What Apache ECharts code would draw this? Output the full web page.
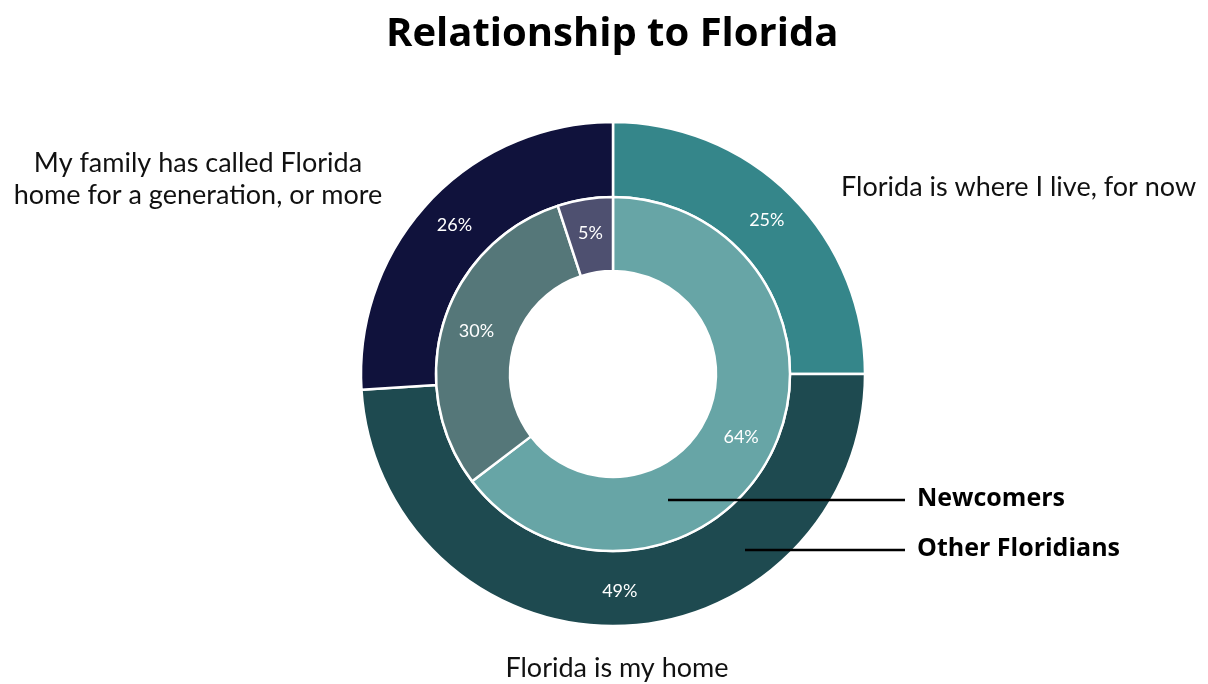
<!DOCTYPE html>
<html>
<head>
<meta charset="utf-8">
<script src="https://cdn.jsdelivr.net/npm/echarts@6/dist/echarts.min.js"></script>
<style>
  html, body { margin: 0; padding: 0; background: #fff; }
  #chart { width: 1208px; height: 684px; }
</style>
</head>
<body>
<div id="chart"></div>
<script>
const categories = [
  'Florida is where I live, for now',
  'Florida is my home',
  'My family has called Florida home for a generation, or more'
]
const newcomers = [64, 30, 5]
const otherFloridians = [25, 49, 26]

const outerColors = ['#35868a', '#1e4a50', '#10123c']
const innerColors = ['#67a5a6', '#557779', '#4e5070']

const font = 'Lato, "Open Sans", sans-serif'
const boldFont = '"Open Sans", Lato, sans-serif'
const chart = echarts.init(document.getElementById('chart'))

const toData = (vals, colors) =>
  vals.map((v, i) => ({ name: categories[i], value: v, itemStyle: { color: colors[i] } }))

const ringLabel = {
  show: true,
  position: 'inside',
  formatter: (p) => p.value + '%',
  color: '#fff',
  fontFamily: font,
  fontSize: 18
}

chart.setOption({
  title: {
    text: 'Relationship to Florida',
    left: 381,
    top: 10,
    textStyle: { fontFamily: boldFont, fontWeight: 'bold', fontSize: 40, color: '#000' }
  },
  series: [
    {
      name: 'Other Floridians',
      type: 'pie',
      center: [613, 374],
      radius: [177, 252],
      startAngle: 90,
      clockwise: true,
      silent: true,
      label: ringLabel,
      labelLine: { show: false },
      itemStyle: { borderColor: '#fff', borderWidth: 2.5 },
      data: toData(otherFloridians, outerColors)
    },
    {
      name: 'Newcomers',
      type: 'pie',
      center: [613, 374],
      radius: [103, 177],
      startAngle: 90,
      clockwise: true,
      silent: true,
      label: ringLabel,
      labelLine: { show: false },
      itemStyle: { borderColor: '#fff', borderWidth: 2.5 },
      data: toData(newcomers, innerColors)
    }
  ],
  graphic: [
    {
      type: 'text',
      x: 198, y: 179,
      style: {
        text: 'My family has called Florida\nhome for a generation, or more',
        font: '27px ' + font, fill: '#111', align: 'center', verticalAlign: 'middle', lineHeight: 32
      }
    },
    {
      type: 'text',
      x: 841, y: 187,
      style: { text: categories[0], font: '27px ' + font, fill: '#111', verticalAlign: 'middle' }
    },
    {
      type: 'text',
      x: 617, y: 668,
      style: { text: categories[1], font: '27px ' + font, fill: '#111', align: 'center', verticalAlign: 'middle' }
    },
    {
      type: 'line', z: 20,
      shape: { x1: 668, y1: 500, x2: 905, y2: 500 },
      style: { stroke: '#000', lineWidth: 2.5 }
    },
    {
      type: 'line', z: 20,
      shape: { x1: 745, y1: 550, x2: 905, y2: 550 },
      style: { stroke: '#000', lineWidth: 2.5 }
    },
    {
      type: 'text',
      x: 917, y: 499,
      style: { text: 'Newcomers', font: 'bold 25px ' + boldFont, fill: '#000', verticalAlign: 'middle' }
    },
    {
      type: 'text',
      x: 917, y: 549,
      style: { text: 'Other Floridians', font: 'bold 25px ' + boldFont, fill: '#000', verticalAlign: 'middle' }
    }
  ]
})
</script>
</body>
</html>
